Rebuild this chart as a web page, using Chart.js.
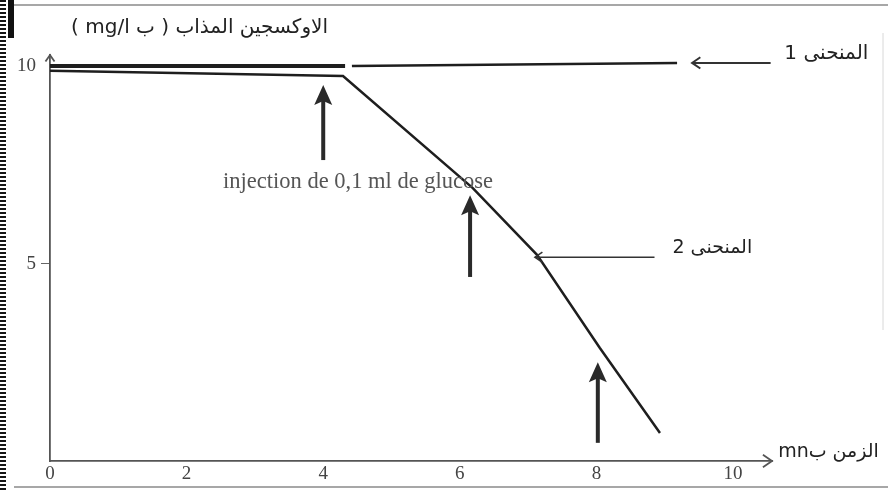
<!DOCTYPE html>
<html>
<head>
<meta charset="utf-8">
<script src="https://cdn.jsdelivr.net/npm/chart.js@4"></script>
<style>
  html, body { margin: 0; padding: 0; background: #fff; }
  #wrap { width: 888px; height: 490px; }
</style>
</head>
<body>
<div id="wrap"><canvas id="chart"></canvas></div>
<script>
"use strict";
// curve 1 (control) and curve 2 (with glucose): time in mn, dissolved O2 in mg/l
// null = small break in the printed trace
const curve1X = [0, 4.32, 4.37, 4.42, 9.18];
const curve1Y = [10.0, 10.0, null, 10.0, 10.08];
const curve2X = [0, 4.29, 6.19, 7.13, 8.05, 8.93];
const curve2Y = [9.88, 9.75, 6.91, 5.22, 2.86, 0.71];

const xTicks = [0, 2, 4, 6, 8, 10];
const yTicks = [5, 10];

// vertical arrows marking each injection: time, bottom of shaft, tip
const injectX = [4.0, 6.15, 8.02];
const injectFrom = [7.62, 4.66, 0.46];
const injectTo = [9.52, 6.73, 2.5];

const titleY = 'الاوكسجين المذاب ( ب mg/l )';
const titleX = 'الزمن بmn';
const label1 = 'المنحنى 1';
const label2 = 'المنحنى 2';
const injectText = 'injection de 0,1 ml de glucose';

const ink = '#1e1e1e';
const serif = '"Liberation Serif", "DejaVu Serif", serif';
const arabic = '"DejaVu Sans", sans-serif';

function toPoints(xs, ys) {
  return xs.map((v, i) => ({ x: v, y: ys[i] }));
}

function openHead(ctx, tx, ty, dx, dy, size) {
  // chevron arrowhead pointing along (dx, dy)
  const a = Math.atan2(dy, dx);
  ctx.beginPath();
  ctx.moveTo(tx - size * Math.cos(a - 0.6), ty - size * Math.sin(a - 0.6));
  ctx.lineTo(tx, ty);
  ctx.lineTo(tx - size * Math.cos(a + 0.6), ty - size * Math.sin(a + 0.6));
  ctx.stroke();
}

function upArrow(ctx, px, yBottom, yTip) {
  ctx.save();
  ctx.strokeStyle = '#2a2a2a';
  ctx.fillStyle = '#2a2a2a';
  ctx.lineWidth = 4;
  ctx.beginPath();
  ctx.moveTo(px, yBottom);
  ctx.lineTo(px, yTip + 14);
  ctx.stroke();
  ctx.beginPath();
  ctx.moveTo(px, yTip);
  ctx.lineTo(px - 9, yTip + 20);
  ctx.lineTo(px, yTip + 16);
  ctx.lineTo(px + 9, yTip + 20);
  ctx.closePath();
  ctx.fill();
  ctx.restore();
}

const annotations = {
  id: 'annotations',
  afterDraw(chart) {
    const { ctx, scales: { x, y }, chartArea: a } = chart;
    const W = chart.width, H = chart.height;
    ctx.save();

    // scan frame
    ctx.strokeStyle = '#8a8a8a';
    ctx.lineWidth = 1.5;
    ctx.beginPath();
    ctx.moveTo(14, 5); ctx.lineTo(W, 5);
    ctx.moveTo(14, 487); ctx.lineTo(W, 487);
    ctx.stroke();
    ctx.strokeStyle = '#d8d8d8';
    ctx.lineWidth = 1;
    ctx.beginPath();
    ctx.moveTo(883, 33); ctx.lineTo(883, 330);
    ctx.stroke();
    ctx.strokeStyle = '#151515';
    ctx.lineWidth = 6;
    ctx.setLineDash([2, 2]);
    ctx.beginPath();
    ctx.moveTo(3, 0); ctx.lineTo(3, H);
    ctx.stroke();
    ctx.setLineDash([]);
    ctx.fillStyle = '#111';
    ctx.fillRect(8, 0, 6, 38);

    // axis arrowheads
    ctx.strokeStyle = '#555';
    ctx.lineWidth = 1.8;
    openHead(ctx, a.left, a.top, 0, -1, 8);
    openHead(ctx, a.right, a.bottom, 1, 0, 11);

    // injection arrows
    injectX.forEach((t, i) => {
      upArrow(ctx, x.getPixelForValue(t), y.getPixelForValue(injectFrom[i]), y.getPixelForValue(injectTo[i]));
    });

    // pointers to the curves
    ctx.strokeStyle = '#333';
    ctx.lineWidth = 2;
    const p1 = { x0: x.getPixelForValue(9.40), x1: x.getPixelForValue(10.55), y: y.getPixelForValue(10.08) };
    ctx.beginPath(); ctx.moveTo(p1.x0, p1.y); ctx.lineTo(p1.x1, p1.y); ctx.stroke();
    openHead(ctx, p1.x0, p1.y, -1, 0, 10);
    const p2 = { x0: x.getPixelForValue(7.10), x1: x.getPixelForValue(8.85), y: y.getPixelForValue(5.16) };
    ctx.lineWidth = 1.6;
    ctx.beginPath(); ctx.moveTo(p2.x0, p2.y); ctx.lineTo(p2.x1, p2.y); ctx.stroke();
    openHead(ctx, p2.x0, p2.y, -1, 0, 9);

    // texts
    ctx.fillStyle = '#222';
    ctx.textBaseline = 'middle';
    ctx.direction = 'rtl';
    ctx.textAlign = 'right';
    ctx.font = '20px ' + arabic;
    ctx.fillText(label1, x.getPixelForValue(11.98), y.getPixelForValue(10.3));
    ctx.font = '19px ' + arabic;
    ctx.fillText(label2, x.getPixelForValue(10.28), y.getPixelForValue(5.39));
    ctx.font = '20px ' + arabic;
    ctx.fillText(titleY, x.getPixelForValue(4.07), y.getPixelForValue(10.96));
    ctx.textAlign = 'left';
    ctx.font = '19px ' + arabic;
    ctx.fillText(titleX, x.getPixelForValue(10.66), y.getPixelForValue(0.23));

    ctx.direction = 'ltr';
    ctx.textAlign = 'center';
    ctx.fillStyle = '#555';
    ctx.font = '22.5px ' + serif;
    ctx.fillText(injectText, x.getPixelForValue(4.51), y.getPixelForValue(7.06));
    ctx.restore();
  }
};

new Chart(document.getElementById('chart'), {
  type: 'line',
  data: {
    datasets: [
      {
        label: 'المنحنى 1',
        data: toPoints(curve1X, curve1Y),
        borderColor: ink,
        borderWidth: 2.5,
        segment: { borderWidth: c => c.p0.parsed.x < 4.35 ? 4 : 2.5 },
        pointRadius: 0,
        spanGaps: false,
        tension: 0
      },
      {
        label: 'المنحنى 2',
        data: toPoints(curve2X, curve2Y),
        borderColor: ink,
        borderWidth: 2.5,
        pointRadius: 0,
        tension: 0
      }
    ]
  },
  options: {
    responsive: true,
    maintainAspectRatio: false,
    animation: false,
    events: [],
    layout: { padding: { left: 0, top: 55, right: 116, bottom: 0 } },
    plugins: { legend: { display: false }, tooltip: { enabled: false } },
    scales: {
      x: {
        type: 'linear',
        min: 0,
        max: 10.57,
        afterFit: s => { s.height = 29; },
        afterBuildTicks: s => { s.ticks = xTicks.map(v => ({ value: v })); },
        grid: { display: true, drawOnChartArea: false, drawTicks: false },
        border: { display: true, color: '#555', width: 1.8 },
        ticks: { padding: 2, color: '#444', font: { family: serif, size: 19 }, maxRotation: 0, autoSkip: false }
      },
      y: {
        type: 'linear',
        min: 0,
        max: 10.28,
        afterFit: s => { s.width = 50; },
        afterBuildTicks: s => { s.ticks = yTicks.map(v => ({ value: v })); },
        grid: {
          drawOnChartArea: false,
          tickLength: 9,
          tickColor: c => c.tick && c.tick.value === 5 ? '#666' : 'rgba(0,0,0,0)'
        },
        border: { display: true, color: '#555', width: 1.8 },
        ticks: { padding: 5, color: '#444', font: { family: serif, size: 19 }, autoSkip: false }
      }
    }
  },
  plugins: [annotations]
});
</script>
</body>
</html>
